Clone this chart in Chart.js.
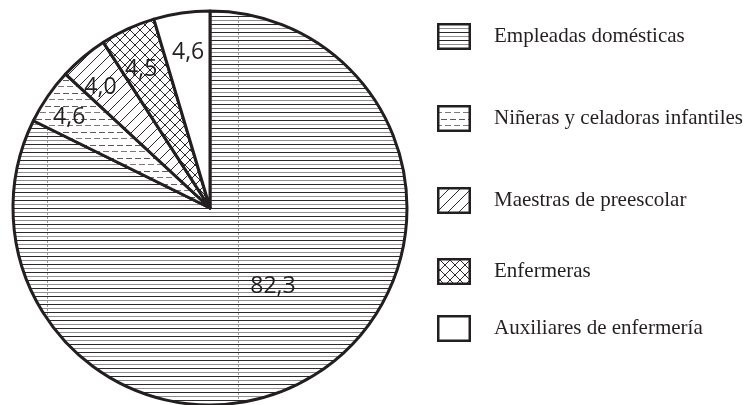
<!DOCTYPE html>
<html>
<head>
<meta charset="utf-8">
<script src="https://cdn.jsdelivr.net/npm/chart.js@4"></script>
<style>
  html, body { margin: 0; padding: 0; background: #fff; overflow: hidden; }
  canvas { display: block; }
</style>
</head>
<body>
<canvas id="c" width="744" height="420"></canvas>
<script>
// ---- data ----
const categories = ['Empleadas domésticas', 'Niñeras y celadoras infantiles', 'Maestras de preescolar', 'Enfermeras', 'Auxiliares de enfermería'];
const shares = [82.3, 4.6, 4.0, 4.5, 4.6];

// ---- layout / style (not data) ----
const INK = '#231f20';
const labelRadiusFrac = [0.505, 0.853, 0.832, 0.792, 0.80];
const labelAngleShiftDeg = [-7.4, -1.5, -2, -1.5, 0.3];
const legendTops = [23, 105, 187, 258, 315];

const canvas = document.getElementById('c');
const ctx = canvas.getContext('2d');

function makePattern(w, h, draw) {
  const c = document.createElement('canvas');
  c.width = w; c.height = h;
  const x = c.getContext('2d');
  x.fillStyle = '#fff';
  x.fillRect(0, 0, w, h);
  draw(x, w, h);
  return ctx.createPattern(c, 'repeat');
}

const patHorizontal = makePattern(191, 8, (x, w) => {
  x.fillStyle = '#2a2a2a'; x.fillRect(0, 0, w, 1);
  x.fillStyle = '#8c8c8c'; x.fillRect(0, 4, w, 1);
  x.fillStyle = '#9a9a9a'; x.fillRect(47, 1, 1, 2); x.fillRect(47, 5, 1, 2);
});
const patDashed = makePattern(18, 13, (x) => {
  x.fillStyle = '#5a5a5a';
  x.fillRect(0, 2, 6, 1); x.fillRect(9, 2, 6, 1);
  x.fillStyle = '#7a7a7a';
  x.fillRect(4, 8, 6, 1); x.fillRect(13, 8, 5, 1); x.fillRect(0, 8, 1, 1);
});
const patDiag = makePattern(11, 11, (x) => {
  x.strokeStyle = '#2a2a2a'; x.lineWidth = 1;
  x.beginPath();
  x.moveTo(-1, 12); x.lineTo(12, -1);
  x.moveTo(-2, 2); x.lineTo(2, -2);
  x.moveTo(9, 13); x.lineTo(13, 9);
  x.stroke();
});
const patCross = makePattern(10, 10, (x) => {
  x.strokeStyle = '#2a2a2a'; x.lineWidth = 1;
  x.beginPath();
  x.moveTo(-1, 11); x.lineTo(11, -1);
  x.moveTo(-1, -1); x.lineTo(11, 11);
  x.stroke();
});
const fills = [patHorizontal, patDashed, patDiag, patCross, '#ffffff'];

const sliceLabels = {
  id: 'sliceLabels',
  afterDatasetsDraw(chart) {
    const c = chart.ctx;
    const meta = chart.getDatasetMeta(0);
    c.save();
    c.fillStyle = INK;
    c.font = '23px "Open Sans"';
    c.textAlign = 'center';
    c.textBaseline = 'middle';
    meta.data.forEach((arc, i) => {
      const p = arc.getProps(['x', 'y', 'startAngle', 'endAngle', 'outerRadius'], true);
      const a = (p.startAngle + p.endAngle) / 2 + labelAngleShiftDeg[i] * Math.PI / 180;
      const r = p.outerRadius * labelRadiusFrac[i];
      const txt = shares[i].toFixed(1).replace('.', ',');
      c.fillText(txt, p.x + r * Math.cos(a), p.y + r * Math.sin(a) + 1);
    });
    c.restore();
  }
};

const sideLegend = {
  id: 'sideLegend',
  afterDraw(chart) {
    const c = chart.ctx;
    c.save();
    categories.forEach((name, i) => {
      const top = legendTops[i];
      c.fillStyle = fills[i];
      c.fillRect(438, top + 1, 32, 25);
      c.strokeStyle = INK;
      c.lineWidth = 2.5;
      c.strokeRect(438.25, top + 1.25, 31.5, 24.5);
      c.fillStyle = INK;
      c.font = '21px "Liberation Serif"';
      c.textAlign = 'left';
      c.textBaseline = 'alphabetic';
      c.fillText(name, 494, top + 19);
    });
    c.restore();
  }
};

new Chart(canvas, {
  type: 'pie',
  data: {
    labels: categories,
    datasets: [{
      data: shares,
      backgroundColor: fills,
      borderColor: INK,
      borderWidth: 3,
      borderJoinStyle: 'round',
      borderAlign: 'center',
      hoverOffset: 0
    }]
  },
  options: {
    responsive: false,
    devicePixelRatio: 1,
    animation: false,
    rotation: 0,
    layout: { padding: { left: 11.5, top: 9.5, right: 335.5, bottom: 13.5 } },
    plugins: {
      legend: { display: false },
      tooltip: { enabled: false }
    }
  },
  plugins: [sliceLabels, sideLegend]
});
</script>
</body>
</html>
